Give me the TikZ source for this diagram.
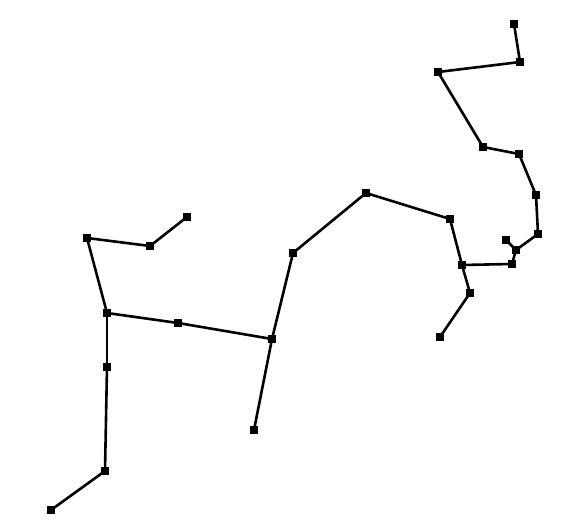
\documentclass[tikz,border=0pt]{standalone}
\usepackage{tikz}
\usetikzlibrary{positioning}
\tikzset{
  vert/.style={rectangle, fill=black, draw=none,
    minimum size=8.5pt, inner sep=0pt},
  edge/.style={draw=black, line width=2.6pt},
}

\begin{document}
\begin{tikzpicture}[x=1pt, y=-1pt]
    \useasboundingbox (0,0) rectangle (574,525);

    \node[vert] (v01) at (514,24)  {};
    \node[vert] (v02) at (520,62)  {};
    \node[vert] (v03) at (438,72)  {};
    \node[vert] (v04) at (483,147) {};
    \node[vert] (v05) at (519,154) {};
    \node[vert] (v06) at (536,195) {};
    \node[vert] (v07) at (538,234) {};
    \node[vert] (v08) at (516,250) {};
    \node[vert] (v09) at (506,240) {};
    \node[vert] (v10) at (512,264) {};
    \node[vert] (v11) at (462,265) {};
    \node[vert] (v12) at (450,219) {};
    \node[vert] (v13) at (470,293) {};
    \node[vert] (v14) at (440,337) {};
    \node[vert] (v15) at (366,193) {};
    \node[vert] (v16) at (293,253) {};
    \node[vert] (v17) at (272,339) {};
    \node[vert] (v18) at (254,430) {};
    \node[vert] (v19) at (178,323) {};
    \node[vert] (v20) at (107,313) {};
    \node[vert] (v21) at (87,238)  {};
    \node[vert] (v22) at (150,246) {};
    \node[vert] (v23) at (187,217) {};
    \node[vert] (v24) at (107,367) {};
    \node[vert] (v25) at (105,471) {};
    \node[vert] (v26) at (51,510)  {};

    \draw[edge] (v01.center) -- (v02.center);
    \draw[edge] (v02.center) -- (v03.center);
    \draw[edge] (v03.center) -- (v04.center);
    \draw[edge] (v04.center) -- (v05.center);
    \draw[edge] (v05.center) -- (v06.center);
    \draw[edge] (v06.center) -- (v07.center);
    \draw[edge] (v07.center) -- (v08.center);
    \draw[edge] (v08.center) -- (v09.center);
    \draw[edge] (v08.center) -- (v10.center);
    \draw[edge] (v10.center) -- (v11.center);
    \draw[edge] (v11.center) -- (v12.center);
    \draw[edge] (v12.center) -- (v15.center);
    \draw[edge] (v11.center) -- (v13.center);
    \draw[edge] (v13.center) -- (v14.center);
    \draw[edge] (v15.center) -- (v16.center);
    \draw[edge] (v16.center) -- (v17.center);
    \draw[edge] (v17.center) -- (v18.center);
    \draw[edge] (v17.center) -- (v19.center);
    \draw[edge] (v19.center) -- (v20.center);
    \draw[edge] (v20.center) -- (v21.center);
    \draw[edge] (v21.center) -- (v22.center);
    \draw[edge] (v22.center) -- (v23.center);
    \draw[edge] (v20.center) -- (v24.center);
    \draw[edge] (v24.center) -- (v25.center);
    \draw[edge] (v25.center) -- (v26.center);
  \end{tikzpicture}
\end{document}
